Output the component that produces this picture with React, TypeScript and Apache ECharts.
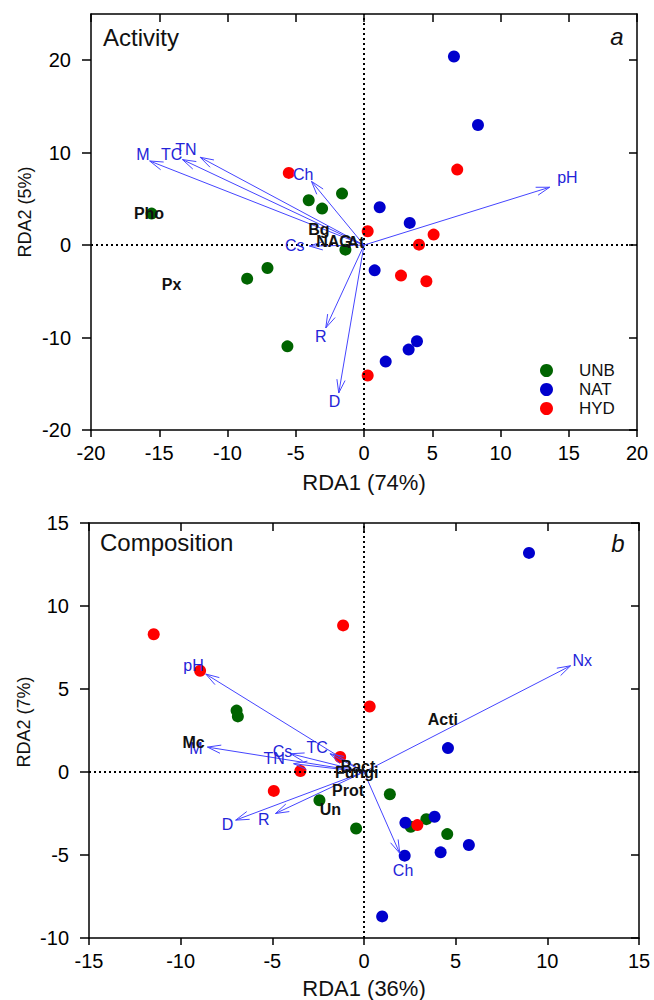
import React, { useEffect, useRef } from "react";
import * as echarts from "echarts";

const FONT = "'Liberation Sans', Arial, sans-serif";
const groups = ["UNB", "NAT", "HYD"];
const groupColors = ["#006400", "#0000cd", "#ff0000"];

// ---- Panel a: Activity ----
const aUNB = [[-15.56, 3.41], [-1.61, 5.57], [-4.05, 4.85], [-3.07, 3.95], [-1.36, -0.49], [-7.07, -2.47], [-8.56, -3.63], [-5.61, -10.95]];
const aNAT = [[6.59, 20.4], [8.35, 13.0], [1.15, 4.09], [3.35, 2.4], [0.78, -2.73], [3.88, -10.4], [3.27, -11.3], [1.59, -12.6]];
const aHYD = [[-5.51, 7.81], [6.83, 8.17], [0.27, 1.5], [5.1, 1.14], [4.03, 0.05], [2.71, -3.3], [4.57, -3.91], [0.27, -14.1]];
const aVarNames = ["M", "TC", "TN", "Ch", "pH", "Cs", "R", "D"];
const aVarTips = [[-15.7, 9.1], [-13.3, 9.25], [-12.0, 9.5], [-3.85, 6.9], [13.6, 6.26], [-4.0, -0.1], [-2.8, -8.96], [-1.85, -16.0]];
const aVarLabelAt = [[-16.2, 9.8], [-14.1, 9.8], [-13.05, 10.3], [-4.46, 7.6], [14.9, 7.3], [-5.07, 0.0], [-3.17, -9.87], [-2.15, -16.9]];
const aRespNames = ["Pho", "Px", "Bg", "NAG", "At"];
const aRespAt = [[-15.75, 3.4], [-14.1, -4.3], [-3.3, 1.7], [-2.2, 0.4], [-0.6, 0.3]];
const aXTicks = [-20, -15, -10, -5, 0, 5, 10, 15, 20];
const aYTicks = [-20, -10, 0, 10, 20];

// ---- Panel b: Composition ----
const bUNB = [[-6.95, 3.7], [-6.88, 3.35], [-2.43, -1.7], [-0.43, -3.4], [1.41, -1.34], [3.4, -2.84], [2.55, -3.3], [4.54, -3.74]];
const bNAT = [[9.0, 13.2], [4.58, 1.44], [2.26, -3.06], [3.85, -2.7], [5.72, -4.4], [4.18, -4.84], [2.22, -5.04], [0.99, -8.7]];
const bHYD = [[-11.47, 8.3], [-8.94, 6.1], [-1.14, 8.83], [0.31, 3.95], [-1.3, 0.9], [-3.47, 0.06], [-4.92, -1.14], [2.91, -3.2]];
const bVarNames = ["pH", "M", "Cs", "TC", "TN", "D", "R", "Ch", "Nx"];
const bVarTips = [[-8.63, 5.9], [-8.54, 1.5], [-4.0, 1.1], [-1.85, 1.1], [-3.84, 0.5], [-7.0, -2.9], [-4.83, -2.5], [1.95, -4.9], [11.27, 6.4]];
const bVarLabelAt = [[-9.3, 6.4], [-9.17, 1.4], [-4.45, 1.26], [-2.55, 1.46], [-4.9, 0.8], [-7.45, -3.14], [-5.46, -2.84], [2.13, -5.94], [11.9, 6.74]];
const bRespNames = ["Acti", "Mc", "Prot", "Un", "Bact", "Fungi"];
const bRespAt = [[4.3, 3.15], [-9.3, 1.8], [-0.87, -1.14], [-1.83, -2.25], [-0.33, 0.35], [-0.4, -0.05]];
const bXTicks = [-15, -10, -5, 0, 5, 10, 15];
const bYTicks = [-10, -5, 0, 5, 10, 15];

const ARROW_COLOR = "#4545ff";
const VAR_TEXT = "#2424d8";

function arrowSeries(gi: number, tips: number[][], labelAt: number[][], names: string[]) {
  return {
    type: "custom",
    xAxisIndex: gi * 2,
    yAxisIndex: gi * 2,
    z: 5,
    silent: true,
    data: tips.map((t, i) => ({ name: names[i], value: [t[0], t[1], labelAt[i][0], labelAt[i][1]] })),
    renderItem: (params: any, api: any) => {
      const o = api.coord([0, 0]);
      const t = api.coord([api.value(0), api.value(1)]);
      const l = api.coord([api.value(2), api.value(3)]);
      const ang = Math.atan2(t[1] - o[1], t[0] - o[0]);
      const L = 14;
      const A = 0.3;
      const p1 = [t[0] - L * Math.cos(ang - A), t[1] - L * Math.sin(ang - A)];
      const p2 = [t[0] - L * Math.cos(ang + A), t[1] - L * Math.sin(ang + A)];
      return {
        type: "group",
        children: [
          { type: "line", shape: { x1: o[0], y1: o[1], x2: t[0], y2: t[1] }, style: { stroke: ARROW_COLOR, lineWidth: 1 } },
          { type: "polyline", shape: { points: [p1, t, p2] }, style: { stroke: ARROW_COLOR, fill: "none", lineWidth: 1 } },
          {
            type: "text",
            x: l[0],
            y: l[1],
            style: { text: names[params.dataIndex], fill: VAR_TEXT, font: `16px ${FONT}`, align: "center", verticalAlign: "middle" },
          },
        ],
      };
    },
  };
}

function respSeries(gi: number, at: number[][], names: string[]) {
  return {
    type: "custom",
    xAxisIndex: gi * 2,
    yAxisIndex: gi * 2,
    z: 6,
    silent: true,
    data: at.map((p, i) => ({ name: names[i], value: p })),
    renderItem: (params: any, api: any) => {
      const c = api.coord([api.value(0), api.value(1)]);
      return {
        type: "text",
        x: c[0],
        y: c[1],
        style: { text: names[params.dataIndex], fill: "#111", font: `bold 16px ${FONT}`, align: "center", verticalAlign: "middle" },
      };
    },
  };
}

function scatterSeries(gi: number, sets: number[][][]) {
  return sets.map((d, k) => ({
    type: "scatter",
    name: groups[k],
    xAxisIndex: gi * 2,
    yAxisIndex: gi * 2,
    symbolSize: 12,
    z: 3,
    itemStyle: { color: groupColors[k], opacity: 1 },
    data: d,
    markLine:
      k === 0
        ? {
            silent: true,
            symbol: "none",
            label: { show: false },
            lineStyle: { color: "#000", type: [2, 3], width: 2 },
            data: [{ xAxis: 0 }, { yAxis: 0 }],
          }
        : undefined,
  }));
}

function axesFor(gi: number, xr: number[], yr: number[], xt: number[], yt: number[], xi: number, yi: number) {
  const line = { show: true, onZero: false, lineStyle: { color: "#000", width: 1.5 } };
  const tickStyle = { color: "#000", width: 1.5 };
  const lab = { fontSize: 20, color: "#000", fontFamily: FONT };
  const xAxis = [
    {
      type: "value", gridIndex: gi, min: xr[0], max: xr[1], interval: xi, position: "bottom",
      axisLine: line, splitLine: { show: false },
      axisTick: { show: true, length: 7, lineStyle: tickStyle, customValues: xt },
      axisLabel: { ...lab, margin: 13, customValues: xt },
    },
    {
      type: "value", gridIndex: gi, min: xr[0], max: xr[1], interval: xi, position: "top",
      axisLine: line, splitLine: { show: false },
      axisTick: { show: true, inside: true, length: 8, lineStyle: tickStyle, customValues: xt },
      axisLabel: { show: false },
    },
  ];
  const yAxis = [
    {
      type: "value", gridIndex: gi, min: yr[0], max: yr[1], interval: yi, position: "left",
      axisLine: line, splitLine: { show: false },
      axisTick: { show: true, length: 9, lineStyle: tickStyle, customValues: yt },
      axisLabel: { ...lab, margin: 20, customValues: yt },
    },
    {
      type: "value", gridIndex: gi, min: yr[0], max: yr[1], interval: yi, position: "right",
      axisLine: line, splitLine: { show: false },
      axisTick: { show: true, inside: true, length: 8, lineStyle: tickStyle, customValues: yt },
      axisLabel: { show: false },
    },
  ];
  return { xAxis, yAxis };
}

export default function App() {
  const ref = useRef<HTMLDivElement>(null);
  useEffect(() => {
    if (!ref.current) return;
    const chart = echarts.init(ref.current, null, { renderer: "svg" });
    const a = axesFor(0, [-20, 20], [-20, 25], aXTicks, aYTicks, 5, 10);
    const b = axesFor(1, [-15, 15], [-10, 15], bXTicks, bYTicks, 5, 5);
    const txt = (text: string, x: number, y: number, size: number, extra: any = {}) => ({
      type: "text",
      x,
      y,
      z: 10,
      style: { text, fill: "#111", font: `${extra.italic ? "italic " : ""}${size}px ${FONT}`, align: extra.align || "left", verticalAlign: "middle" },
      rotation: extra.rotation || 0,
    });
    chart.setOption({
      animation: false,
      backgroundColor: "#fff",
      grid: [
        { left: 91, top: 14, width: 546, height: 416 },
        { left: 89, top: 523, width: 550, height: 415 },
      ],
      xAxis: [...a.xAxis, ...b.xAxis],
      yAxis: [...a.yAxis, ...b.yAxis],
      legend: {
        data: groups,
        orient: "vertical",
        left: 540,
        top: 362,
        padding: 0,
        itemWidth: 13,
        itemHeight: 13,
        itemGap: 2,
        icon: "circle",
        selectedMode: false,
        textStyle: { fontSize: 17, color: "#111", fontFamily: FONT, padding: [0, 0, 0, 21] },
      },
      graphic: [
        txt("Activity", 103, 37, 24),
        txt("a", 617, 36, 24, { italic: true, align: "center" }),
        txt("Composition", 100, 542, 24),
        txt("b", 618, 543, 24, { italic: true, align: "center" }),
        txt("RDA1 (74%)", 364, 482, 22, { align: "center" }),
        txt("RDA1 (36%)", 364, 988, 22, { align: "center" }),
        txt("RDA2 (5%)", 25, 212, 18, { align: "center", rotation: Math.PI / 2 }),
        txt("RDA2 (7%)", 24, 722, 18, { align: "center", rotation: Math.PI / 2 }),
      ],
      series: [
        ...scatterSeries(0, [aUNB, aNAT, aHYD]),
        arrowSeries(0, aVarTips, aVarLabelAt, aVarNames),
        respSeries(0, aRespAt, aRespNames),
        ...scatterSeries(1, [bUNB, bNAT, bHYD]),
        arrowSeries(1, bVarTips, bVarLabelAt, bVarNames),
        respSeries(1, bRespAt, bRespNames),
      ],
    });
    return () => chart.dispose();
  }, []);
  return <div ref={ref} style={{ position: "fixed", left: 0, top: 0, width: 654, height: 1000, background: "#fff" }} />;
}
